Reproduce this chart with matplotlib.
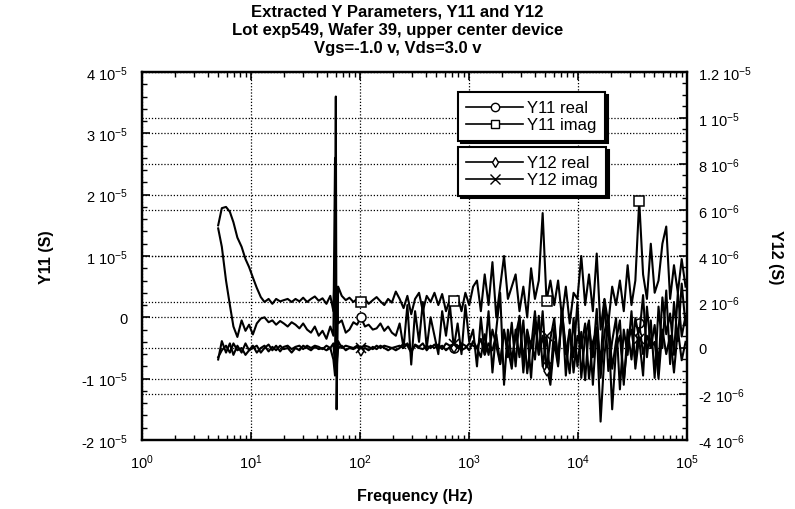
import matplotlib

matplotlib.use("Agg")
import numpy as np
from matplotlib import pyplot as plt
from matplotlib.lines import Line2D
from matplotlib.ticker import FixedLocator, MultipleLocator, LogLocator, NullFormatter

# sweep frequencies (Hz)
freq_hz = [
    5.0, 5.4, 5.9, 6.4, 6.9, 7.5, 8.2, 8.9, 9.6, 10.4,
    11.3, 12.3, 13.3, 14.5, 15.7, 17.0, 18.5, 20.0, 21.7, 23.6,
    25.6, 27.8, 30.1, 32.7, 35.5, 38.5, 41.8, 45.3, 49.2, 53.4,
    57.0, 59.0, 60.0, 61.0, 63.0, 68, 74, 80, 87, 94,
    102, 111, 120, 131, 142, 154, 167, 181, 196, 213,
    231, 251, 272, 295, 320, 348, 377, 409, 444, 482,
    523, 567, 615, 668, 725, 786, 853, 926, 1005, 1090,
    1183, 1284, 1393, 1511, 1640, 1779, 1931, 2095, 2273, 2466,
    2676, 2903, 3150, 3418, 3709, 4024, 4366, 4737, 5140, 5577,
    6051, 6565, 7123, 7729, 8386, 9099, 9872, 10711, 11622, 12610,
    13681, 14844, 16106, 17475, 18960, 20572, 22321, 24218, 26277, 28510,
    30934, 33563, 36416, 39511, 42870, 46514, 50467, 54757, 59412, 64462,
    69941, 75886, 82337, 89335, 96929,
]

# Y11 in units of 1e-5 S
y11_real = [
    1.45, 1.15, 0.6, 0.2, -0.15, -0.32, -0.05, -0.22, -0.12, -0.28,
    -0.1, -0.02, 0.0, -0.08, -0.05, -0.12, -0.06, -0.1, -0.15, -0.08,
    -0.12, -0.18, -0.1, -0.2, -0.25, -0.15, -0.3, -0.22, -0.35, -0.15,
    -0.3, 2.6, -0.6, 0.5, -0.1, -0.05, -0.25, -0.2, -0.08, -0.12,
    0.0, -0.15, -0.12, -0.2, -0.18, -0.1, -0.22, -0.15, -0.25, -0.3,
    -0.1, -0.5, 0.2, -0.77, 0.1, -0.4, 0.25, -0.5, 0.0, -0.3,
    -0.6, 0.1, -0.3, 0.2, -0.5, -0.1, -0.6, 0.2, -0.4, -0.2,
    -0.8, 0.0, -0.6, 0.1, -0.9, -0.2, 0.4, -1.1, -0.2, -0.7,
    -0.3, 0.0, -0.9, -0.2, -0.5, 0.1, -0.6, -0.3, -0.8, -1.1,
    -0.4, -0.8, 0.1, -0.6, -0.2, -0.9, -0.3, -0.5, -0.1, -1.0,
    -0.4, -0.2, -1.7, -0.6, -0.1, -1.5, -0.5, -0.3, -1.04, -0.4,
    -0.2, -0.7, -0.1, -0.6, -0.3, -0.5, -0.4, -1.0, -0.2, -0.6,
    -0.3, -0.9, -0.2, -0.7, -0.4,
]
y11_imag = [
    1.5, 1.78, 1.8, 1.72, 1.55, 1.3, 1.15, 0.95, 0.82, 0.65,
    0.48, 0.33, 0.25, 0.3, 0.22, 0.3, 0.26, 0.28, 0.3, 0.25,
    0.3, 0.26, 0.32, 0.25, 0.3, 0.34, 0.27, 0.31, 0.22, 0.35,
    0.1, 1.0, 3.6, -1.5, 0.5, 0.35, 0.28, 0.32, 0.25, 0.3,
    0.25, 0.3, 0.22, 0.28, 0.33, 0.26, 0.2, 0.3, 0.24, 0.42,
    0.3, 0.15, 0.35, 0.05, 0.3, 0.4, 0.1, 0.35, 0.25, 0.4,
    0.2, 0.38, 0.1, 0.3, 0.27, 0.35, 0.1, 0.4, 0.2, 0.5,
    0.6, 0.1, 0.7, 0.2, 0.9, 0.0, 0.5, 1.0, 0.3, 0.5,
    0.7, 0.1, 0.5, 0.0, 0.8, 0.3, 0.6, 1.7, 0.27, 0.6,
    0.2, 0.6, 0.0, 0.5, -0.1, 0.4, 0.3, 1.0, 0.2, 0.7,
    0.1, 1.04, -0.2, 0.3, -0.1, 0.5, 0.2, 0.6, 0.1, 0.85,
    0.2, 0.6, 1.9, 0.7, 0.3, 1.2, 0.4, 0.6, 1.2, 1.48,
    0.3, 0.85, 0.4, 0.95, 0.5,
]

# Y12 in units of 1e-6 S
y12_real = [
    -0.4, -0.1, 0.1, -0.2, 0.2, -0.1, 0.0, -0.3, -0.1, 0.1,
    -0.2, 0.0, 0.1, -0.15, 0.05, -0.1, 0.1, -0.05, 0.0, -0.2,
    0.0, -0.1, 0.1, 0.0, -0.1, 0.05, -0.05, 0.0, -0.1, 0.0,
    -0.5, -1.2, 0.8, -0.6, 0.0, 0.1, -0.1, 0.0, -0.05, 0.05,
    -0.13, 0.0, -0.1, 0.05, -0.05, 0.1, 0.0, -0.1, 0.0, 0.05,
    0.1, 0.0, 0.2, -0.1, 0.1, 0.0, -0.05, 0.1, 0.0, 0.15,
    0.0, 0.1, -0.1, 0.05, 0.0, 0.1, -0.1, 0.0, 0.2, 0.1,
    0.0, 0.4, -0.3, 0.2, -0.1, 0.6, -0.7, 0.8, -0.4, 1.1,
    -0.8, 1.4, -0.5, 0.7, -1.3, 1.1, -0.3, 1.6, -1.0, 0.4,
    1.3, -0.7, 1.7, -1.2, 0.8, -0.4, 2.0, -1.3, 0.5, 1.2,
    -1.6, 0.9, -0.7, 2.1, -1.0, 0.3, 1.3, -1.8, 0.8, -0.3,
    1.6, -0.9, 0.5, 2.3, -0.4, 1.2, -1.3, 1.8, 0.0, 2.5,
    -0.7, 2.0, 0.3, 2.8, 1.0,
]
y12_imag = [
    -0.5, 0.3, -0.2, 0.2, -0.3, 0.1, -0.2, 0.2, -0.1, 0.0,
    0.1, -0.2, 0.0, 0.15, -0.1, 0.1, -0.15, 0.05, 0.1, -0.05,
    0.05, 0.1, -0.05, 0.1, 0.0, 0.1, 0.05, -0.05, 0.1, 0.0,
    0.2, -0.8, 1.5, -1.0, 0.3, 0.0, 0.1, 0.05, 0.0, 0.1,
    0.0, 0.1, 0.05, -0.05, 0.1, 0.0, 0.1, 0.05, 0.0, -0.1,
    0.0, 0.2, 0.1, -0.2, 0.15, 0.05, 0.2, -0.1, 0.1, 0.0,
    0.15, -0.05, 0.2, 0.1, 0.17, 0.0, 0.2, 0.1, -0.1, 0.3,
    0.0, -0.4, 0.6, -0.3, 0.8, 0.1, -0.7, 0.7, 0.0, -0.9,
    0.8, -0.4, 1.2, -1.1, 0.3, -0.5, 1.4, -0.8, 0.5, -1.3,
    0.9, -0.5, 1.6, 0.0, -1.1, 1.3, -0.8, 0.7, -1.4, 1.0,
    -0.4, 1.7, -1.3, 0.7, 1.4, -0.9, 0.3, 1.2, -1.6, 0.8,
    -0.5, 1.3, 0.4, -1.2, 1.8, 0.0, 1.0, -0.8, 2.2, 0.6,
    1.5, -0.3, 2.4, 0.5, 1.4,
]

left_ticks = [-2e-5, -1e-5, 0, 1e-5, 2e-5, 3e-5, 4e-5]
left_labels = [r"-2 10$^{-5}$", r"-1 10$^{-5}$", "0", r"1 10$^{-5}$",
               r"2 10$^{-5}$", r"3 10$^{-5}$", r"4 10$^{-5}$"]
right_ticks = [-4e-6, -2e-6, 0, 2e-6, 4e-6, 6e-6, 8e-6, 1e-5, 1.2e-5]
right_labels = [r"-4 10$^{-6}$", r"-2 10$^{-6}$", "0", r"2 10$^{-6}$", r"4 10$^{-6}$",
                r"6 10$^{-6}$", r"8 10$^{-6}$", r"1 10$^{-5}$", r"1.2 10$^{-5}$"]
x_ticks = [1, 10, 100, 1000, 1e4, 1e5]
x_labels = [r"10$^{0}$", r"10$^{1}$", r"10$^{2}$", r"10$^{3}$", r"10$^{4}$", r"10$^{5}$"]

plt.rcParams["font.family"] = ["Liberation Sans", "DejaVu Sans"]
plt.rcParams["mathtext.default"] = "regular"

f = np.array(freq_hz)
marks = [40, 64, 88, 112]

fig, ax = plt.subplots(figsize=(7.95, 5.10), dpi=100)
fig.subplots_adjust(left=0.1786, right=0.8642, bottom=0.1353, top=0.8569)
ax2 = ax.twinx()

line_kw = dict(color="black", lw=1.5, markevery=marks, mfc="white", mec="black", mew=1.1)
ax.plot(f, np.array(y11_real) * 1e-5, marker="o", ms=6.5, **line_kw)
ax.plot(f, np.array(y11_imag) * 1e-5, marker="s", ms=6.5, **line_kw)
ax2.plot(f, np.array(y12_real) * 1e-6, marker="d", ms=5, **line_kw)
ax2.plot(f, np.array(y12_imag) * 1e-6, marker="x", ms=7, **line_kw)

ax.set_xscale("log")
ax.set_xlim(1, 1e5)
ax.set_ylim(-2e-5, 4e-5)
ax2.set_ylim(-4e-6, 1.2e-5)

ax.xaxis.set_major_locator(FixedLocator(x_ticks))
ax.set_xticklabels(x_labels)
ax.xaxis.set_minor_locator(LogLocator(base=10, subs=np.arange(2, 10)))
ax.xaxis.set_minor_formatter(NullFormatter())
ax.set_yticks(left_ticks)
ax.set_yticklabels(left_labels)
ax.yaxis.set_minor_locator(MultipleLocator(0.2e-5))
ax2.set_yticks(right_ticks)
ax2.set_yticklabels(right_labels)
ax2.yaxis.set_minor_locator(MultipleLocator(0.5e-6))

for a in (ax, ax2):
    a.tick_params(which="both", direction="in", top=True, labelsize=10.5)
    a.tick_params(which="major", length=6, width=1.2)
    a.tick_params(which="minor", length=3.5, width=1.0)
    a.grid(True, which="major", axis="y", color="black", linestyle=(0, (1, 1.5)), lw=0.9)
    for s in a.spines.values():
        s.set_linewidth(1.6)
ax.tick_params(axis="y", pad=10)
ax.tick_params(axis="x", pad=9)
ax2.tick_params(axis="y", pad=8)
ax.grid(True, which="major", axis="x", color="black", linestyle=(0, (1, 1.5)), lw=0.9)

ax.set_xlabel("Frequency (Hz)", fontsize=11.5, fontweight="bold", labelpad=12)
ax.set_ylabel("Y11 (S)", fontsize=11.5, fontweight="bold", labelpad=20)
ax2.set_ylabel("Y12 (S)", fontsize=11.5, fontweight="bold", rotation=270, labelpad=22)

fig.text(0.5, 1 - 30 / 510,
         "Extracted Y Parameters, Y11 and Y12\nLot exp549, Wafer 39, upper center device\nVgs=-1.0 v, Vds=3.0 v",
         ha="center", va="center", fontsize=12, fontweight="bold", linespacing=1.25)

leg_kw = dict(loc="upper left", bbox_transform=fig.transFigure, fontsize=12, frameon=True,
              fancybox=False, edgecolor="black", framealpha=1, handlelength=3.4,
              handletextpad=0.25, labelspacing=0.12, borderpad=0.5, borderaxespad=0,
              shadow={"color": "black", "alpha": 1, "ox": 2, "oy": -2})
h1 = [Line2D([], [], color="black", lw=1.2, marker="o", ms=6, mfc="white"),
      Line2D([], [], color="black", lw=1.2, marker="s", ms=6, mfc="white")]
h2 = [Line2D([], [], color="black", lw=1.2, marker="d", ms=5, mfc="white"),
      Line2D([], [], color="black", lw=1.2, marker="x", ms=7)]
leg1 = ax2.legend(h1, ["Y11 real", "Y11 imag"], bbox_to_anchor=(0.5761, 0.8176), **leg_kw)
leg1.get_frame().set_linewidth(1.5)
ax2.add_artist(leg1)
leg2 = ax2.legend(h2, ["Y12 real", "Y12 imag"], bbox_to_anchor=(0.5761, 0.7098), **leg_kw)
leg2.get_frame().set_linewidth(1.5)

fig.savefig("out.png", dpi=100)
